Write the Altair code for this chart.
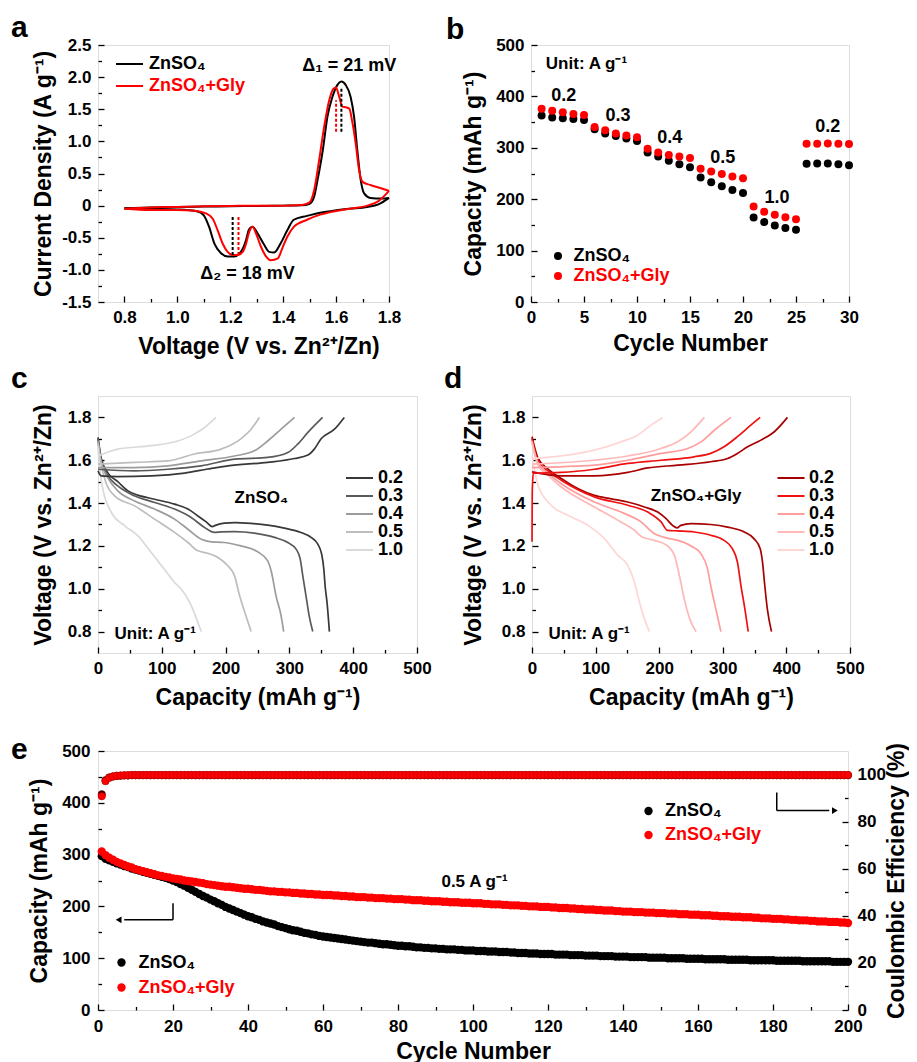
import altair as alt
import pandas as pd

FONT = "Liberation Sans"
S1 = "ZnSO₄"
S2 = "ZnSO₄+Gly"
SERIES = [S1, S2]
SER_COLORS = ["#000000", "#ff0000"]
RATES = ["0.2", "0.3", "0.4", "0.5", "1.0"]
GRAYS = ["#383838", "#5a5a5a", "#9c9c9c", "#bdbdbd", "#dadada"]
REDS = ["#a80000", "#ee1111", "#ff9c9c", "#ffb8b8", "#ffd6d6"]

# ---------------- panel a : CV curves ----------------
a_zn_up_v = [0.80, 0.90, 1.00, 1.10, 1.20, 1.30, 1.40, 1.47, 1.50, 1.517, 1.53, 1.55, 1.567, 1.586,
             1.605, 1.62, 1.636, 1.655, 1.668, 1.68, 1.693, 1.706, 1.73, 1.77, 1.80]
a_zn_up_i = [-0.04, -0.03, -0.02, -0.015, -0.01, -0.005, 0.0, 0.005, 0.03, 0.14, 0.40, 0.87, 1.38, 1.69,
             1.88, 1.93, 1.88, 1.69, 1.38, 0.87, 0.40, 0.19, 0.12, 0.11, 0.12]
a_zn_dn_v = [1.80, 1.76, 1.718, 1.65, 1.59, 1.54, 1.49, 1.44, 1.416, 1.39, 1.366, 1.347, 1.328, 1.303,
             1.284, 1.27, 1.26, 1.24, 1.215, 1.19, 1.165, 1.14, 1.12, 1.10, 1.077, 1.04, 1.00, 0.90, 0.80]
a_zn_dn_i = [0.12, 0.02, -0.02, -0.05, -0.08, -0.11, -0.16, -0.22, -0.38, -0.59, -0.73, -0.72, -0.61, -0.43,
             -0.33, -0.38, -0.53, -0.72, -0.79, -0.79, -0.74, -0.59, -0.33, -0.15, -0.09, -0.07, -0.06, -0.05, -0.04]
a_gly_up_v = [0.80, 0.90, 1.00, 1.10, 1.20, 1.30, 1.40, 1.47, 1.50, 1.517, 1.536, 1.555, 1.574, 1.59, 1.60,
              1.61, 1.624, 1.636, 1.65, 1.66, 1.674, 1.687, 1.70, 1.73, 1.77, 1.80]
a_gly_up_i = [-0.05, -0.03, -0.02, -0.01, -0.005, 0.0, 0.0, 0.01, 0.05, 0.24, 0.71, 1.23, 1.64, 1.82, 1.84,
              1.72, 1.54, 1.53, 1.51, 1.33, 0.97, 0.55, 0.37, 0.32, 0.27, 0.23]
a_gly_dn_v = [1.80, 1.76, 1.718, 1.65, 1.59, 1.54, 1.49, 1.44, 1.416, 1.397, 1.38, 1.353, 1.335, 1.316, 1.297,
              1.284, 1.27, 1.26, 1.247, 1.228, 1.21, 1.19, 1.171, 1.152, 1.133, 1.108, 1.064, 1.00, 0.90, 0.80]
a_gly_dn_i = [0.23, 0.07, 0.0, -0.05, -0.09, -0.14, -0.22, -0.33, -0.48, -0.66, -0.82, -0.85, -0.79, -0.64, -0.43,
              -0.33, -0.43, -0.59, -0.72, -0.77, -0.77, -0.72, -0.59, -0.38, -0.20, -0.12, -0.08, -0.07, -0.07, -0.05]
a_dash_v = [1.62, 1.60, 1.209, 1.231]
a_dash_y1 = [1.15, 1.15, -0.77, -0.77]
a_dash_y2 = [1.82, 1.64, -0.16, -0.16]
a_dash_s = [S1, S2, S1, S2]
a_note_t = ["Δ₁ = 21 mV", "Δ₂ = 18 mV"]
a_note_x = [1.65, 1.265]
a_note_y = [2.18, -1.06]

# ---------------- panel b : rate capability ----------------
b_cycle = list(range(1, 31))
b_zn = [362.7, 359, 357.5, 356, 354, 336, 328, 323, 318, 313, 291, 283, 275, 268, 262,
        242, 233, 225, 218, 212, 164.5, 155.4, 149, 144, 140.5, 269, 269.4, 269.4, 268, 266]
b_gly = [376, 372, 369, 366, 364, 340.7, 334, 328, 324, 320.6, 298, 291, 286, 283, 280,
         259, 254, 249, 244, 241, 186, 175.5, 169.7, 165, 161, 308, 308, 308.5, 308, 307.5]
b_lab_t = ["0.2", "0.3", "0.4", "0.5", "1.0", "0.2"]
b_lab_x = [3.1, 8.2, 13.1, 18.1, 23.2, 28.0]
b_lab_y = [400, 361, 319, 281, 202, 341]

# ---------------- panel c : ZnSO4 GCD ----------------
c02_dis_cap = [0, 5, 15.7, 31, 47, 62.6, 88.7, 120, 141, 156.6, 169.6, 179, 185, 198, 214, 240, 266, 292, 318, 334, 344.5, 350.7, 354, 356, 359, 362.7]
c02_dis_v = [1.707, 1.61, 1.54, 1.50, 1.457, 1.437, 1.418, 1.395, 1.372, 1.34, 1.312, 1.29, 1.297, 1.306, 1.309, 1.305, 1.297, 1.283, 1.263, 1.24, 1.208, 1.16, 1.09, 1.013, 0.935, 0.80]
c03_dis_cap = [0, 5, 15, 31, 57, 88.7, 120, 146, 167, 182.7, 193, 214, 245, 276.6, 297.5, 310.5, 317, 321, 326, 331, 336.6]
c03_dis_v = [1.70, 1.60, 1.53, 1.48, 1.434, 1.403, 1.372, 1.333, 1.286, 1.263, 1.266, 1.267, 1.26, 1.24, 1.216, 1.185, 1.138, 1.06, 0.967, 0.873, 0.80]
c04_dis_cap = [0, 5, 15, 31, 57.4, 88.7, 120, 141, 162, 177.5, 198, 224, 250.5, 266, 272, 279, 287, 291]
c04_dis_v = [1.69, 1.59, 1.52, 1.457, 1.41, 1.372, 1.325, 1.278, 1.231, 1.219, 1.216, 1.20, 1.172, 1.13, 1.076, 0.967, 0.873, 0.80]
c05_dis_cap = [0, 5, 12, 26, 57.4, 88.7, 120, 141, 156.6, 172, 188, 203.5, 214, 222, 232, 240]
c05_dis_v = [1.68, 1.58, 1.50, 1.434, 1.387, 1.325, 1.263, 1.216, 1.177, 1.166, 1.146, 1.107, 1.06, 0.967, 0.873, 0.80]
c10_dis_cap = [0, 5, 21, 42, 62.6, 83.5, 104, 120, 130.5, 141, 148.7, 156.6, 161.8]
c10_dis_v = [1.66, 1.51, 1.356, 1.294, 1.247, 1.169, 1.091, 1.029, 0.998, 0.951, 0.904, 0.842, 0.80]
c02_chg_cap = [0, 5, 31, 83.5, 135.7, 172, 203.5, 266, 308, 329, 339, 349.7, 370.6, 386]
c02_chg_v = [1.55, 1.527, 1.524, 1.527, 1.54, 1.559, 1.574, 1.59, 1.608, 1.624, 1.652, 1.70, 1.745, 1.80]
c03_chg_cap = [0, 57, 109.6, 161.8, 214, 266, 297.5, 313, 329, 352]
c03_chg_v = [1.558, 1.55, 1.558, 1.574, 1.605, 1.613, 1.636, 1.675, 1.73, 1.80]
c04_chg_cap = [0, 57, 109.6, 161.8, 214, 245, 266, 287, 308]
c04_chg_v = [1.566, 1.566, 1.574, 1.597, 1.62, 1.644, 1.69, 1.745, 1.80]
c05_chg_cap = [0, 57, 109.6, 151, 193, 224, 240, 253]
c05_chg_v = [1.582, 1.59, 1.597, 1.629, 1.652, 1.70, 1.745, 1.80]
c10_chg_cap = [0, 31, 83.5, 125, 151, 167, 185]
c10_chg_v = [1.62, 1.652, 1.668, 1.69, 1.722, 1.753, 1.80]

# ---------------- panel d : ZnSO4+Gly GCD ----------------
d02_dis_cap = [0, 9.4, 25, 46, 72, 98, 124.5, 150.6, 176.8, 197.7, 210.8, 221, 228, 234, 250, 281, 307.5, 333.7, 349, 358.8, 362.4, 366, 370, 376.6]
d02_dis_v = [1.71, 1.61, 1.56, 1.515, 1.468, 1.436, 1.42, 1.405, 1.382, 1.358, 1.327, 1.296, 1.284, 1.296, 1.304, 1.30, 1.288, 1.265, 1.234, 1.187, 1.125, 1.015, 0.906, 0.80]
d03_dis_cap = [0, 9, 25, 46, 98, 150.6, 182, 203, 213, 229, 255, 281, 302, 315, 323, 328.5, 334.7, 340]
d03_dis_v = [1.70, 1.60, 1.55, 1.507, 1.429, 1.39, 1.358, 1.312, 1.273, 1.27, 1.265, 1.25, 1.226, 1.187, 1.125, 1.015, 0.906, 0.80]
d04_dis_cap = [0, 9, 25, 46, 98, 140, 171.5, 192.5, 208, 229, 250, 265.7, 276, 281, 289, 297]
d04_dis_v = [1.69, 1.59, 1.54, 1.49, 1.405, 1.358, 1.312, 1.257, 1.24, 1.226, 1.20, 1.163, 1.093, 1.015, 0.906, 0.80]
d05_dis_cap = [0, 9, 25, 46, 98, 140, 161, 174, 192.5, 213, 224, 231.7, 240.6, 250, 258]
d05_dis_v = [1.68, 1.58, 1.53, 1.475, 1.382, 1.312, 1.273, 1.24, 1.226, 1.20, 1.156, 1.062, 0.937, 0.844, 0.80]
d10_dis_cap = [0, 9.4, 30, 56.5, 88, 114, 135, 150.6, 161, 169, 176.8, 184.6]
d10_dis_v = [1.62, 1.483, 1.39, 1.343, 1.296, 1.234, 1.156, 1.109, 1.031, 0.937, 0.859, 0.80]
d02_chg_cap = [0, 46, 98, 150.6, 182, 229, 281, 307.5, 323, 339, 360, 381, 401.7]
d02_chg_v = [1.546, 1.527, 1.527, 1.543, 1.564, 1.577, 1.593, 1.608, 1.632, 1.663, 1.694, 1.733, 1.80]
d03_chg_cap = [0, 0.4, 2, 46, 98, 150.6, 203, 255, 281, 302, 323, 344, 358.8]
d03_chg_v = [1.22, 1.45, 1.54, 1.543, 1.558, 1.585, 1.60, 1.616, 1.632, 1.663, 1.71, 1.764, 1.80]
d04_chg_cap = [0, 98, 150.6, 203, 244.8, 265.7, 286.6, 312.8]
d04_chg_v = [1.566, 1.577, 1.60, 1.632, 1.655, 1.686, 1.74, 1.80]
d05_chg_cap = [0, 98, 150.6, 203, 229, 250, 271]
d05_chg_v = [1.582, 1.60, 1.62, 1.655, 1.686, 1.733, 1.80]
d10_chg_cap = [0, 46, 98, 140, 166, 187, 205.5]
d10_chg_v = [1.608, 1.62, 1.647, 1.686, 1.717, 1.764, 1.80]

# ---------------- panel e : long cycling ----------------
e_cycle = list(range(1, 201))
e_cap_zn = [297, 292, 289, 286, 283, 281, 278, 276, 273, 271,
            269, 267, 265, 263, 261, 259, 257, 255, 253, 250,
            247, 243, 240, 236, 232, 228, 224, 220, 217, 213,
            210, 206, 203, 199, 196, 193, 190, 187, 184, 181,
            179, 176, 174, 171, 169, 167, 165, 162, 160, 158,
            156, 154, 153, 151, 149, 148, 146, 145, 143, 142,
            141, 140, 139, 138, 137, 136, 135, 134, 133, 132,
            131, 130, 130, 129, 128, 127, 127, 126, 125, 124,
            124, 123, 123, 122, 121, 121, 120, 120, 119, 119,
            118, 118, 117, 117, 117, 116, 116, 115, 115, 115,
            114, 114, 114, 113, 113, 113, 112, 112, 112, 111,
            111, 110, 110, 110, 109, 109, 109, 108, 108, 108,
            108, 107, 107, 107, 107, 106, 106, 106, 106, 105,
            105, 105, 105, 104, 104, 104, 104, 103, 103, 103,
            103, 102, 102, 102, 102, 102, 101, 101, 101, 101,
            101, 100, 100, 100, 100, 100, 99, 99, 99, 99,
            99, 98, 98, 98, 98, 98, 98, 97, 97, 97,
            97, 97, 97, 96, 96, 96, 96, 96, 96, 96,
            95, 95, 95, 95, 95, 95, 95, 94, 94, 94,
            94, 94, 94, 94, 94, 93, 93, 93, 93, 93]
e_cap_gly = [306, 299, 294, 290, 286, 283, 280, 277, 275, 272,
             270, 268, 266, 264, 262, 260, 259, 257, 256, 254,
             253, 252, 250, 249, 248, 247, 246, 245, 243, 242,
             241, 240, 239, 238, 238, 237, 236, 235, 234, 234,
             233, 232, 232, 231, 230, 229, 229, 228, 228, 227,
             227, 226, 226, 225, 225, 224, 224, 223, 223, 222,
             222, 222, 221, 221, 220, 220, 219, 219, 218, 218,
             218, 217, 217, 216, 216, 216, 215, 215, 214, 214,
             214, 213, 213, 212, 212, 212, 211, 211, 210, 210,
             210, 209, 209, 208, 208, 208, 207, 207, 207, 206,
             206, 206, 205, 205, 204, 204, 204, 203, 203, 202,
             202, 202, 201, 201, 200, 200, 200, 199, 199, 199,
             198, 198, 197, 197, 197, 196, 196, 195, 195, 194,
             194, 194, 193, 193, 192, 192, 192, 191, 191, 190,
             190, 190, 189, 189, 189, 188, 188, 188, 187, 187,
             187, 186, 186, 186, 185, 185, 185, 184, 184, 184,
             183, 183, 183, 182, 182, 181, 181, 181, 180, 180,
             180, 179, 179, 179, 178, 178, 177, 177, 177, 176,
             176, 176, 175, 175, 174, 174, 173, 173, 173, 172,
             172, 171, 171, 171, 170, 170, 170, 169, 169, 168]
e_ce_zn = [91.6, 97.6, 98.8, 99.2, 99.4, 99.5, 99.6, 99.6, 99.7, 99.7,
           99.7, 99.7, 99.7, 99.7, 99.7, 99.7, 99.7, 99.7, 99.7, 99.7,
           99.7, 99.7, 99.7, 99.7, 99.7, 99.7, 99.7, 99.7, 99.7, 99.7,
           99.7, 99.7, 99.7, 99.7, 99.7, 99.7, 99.7, 99.7, 99.7, 99.7,
           99.7, 99.7, 99.7, 99.7, 99.7, 99.7, 99.7, 99.7, 99.7, 99.7,
           99.7, 99.7, 99.7, 99.7, 99.7, 99.7, 99.7, 99.7, 99.7, 99.7,
           99.7, 99.7, 99.7, 99.7, 99.7, 99.7, 99.7, 99.7, 99.7, 99.7,
           99.7, 99.7, 99.7, 99.7, 99.7, 99.7, 99.7, 99.7, 99.7, 99.7,
           99.7, 99.7, 99.7, 99.7, 99.7, 99.7, 99.7, 99.7, 99.7, 99.7,
           99.7, 99.7, 99.7, 99.7, 99.7, 99.7, 99.7, 99.7, 99.7, 99.7,
           99.7, 99.7, 99.7, 99.7, 99.7, 99.7, 99.7, 99.7, 99.7, 99.7,
           99.7, 99.7, 99.7, 99.7, 99.7, 99.7, 99.7, 99.7, 99.7, 99.7,
           99.7, 99.7, 99.7, 99.7, 99.7, 99.7, 99.7, 99.7, 99.7, 99.7,
           99.7, 99.7, 99.7, 99.7, 99.7, 99.7, 99.7, 99.7, 99.7, 99.7,
           99.7, 99.7, 99.7, 99.7, 99.7, 99.7, 99.7, 99.7, 99.7, 99.7,
           99.7, 99.7, 99.7, 99.7, 99.7, 99.7, 99.7, 99.7, 99.7, 99.7,
           99.7, 99.7, 99.7, 99.7, 99.7, 99.7, 99.7, 99.7, 99.7, 99.7,
           99.7, 99.7, 99.7, 99.7, 99.7, 99.7, 99.7, 99.7, 99.7, 99.7,
           99.7, 99.7, 99.7, 99.7, 99.7, 99.7, 99.7, 99.7, 99.7, 99.7,
           99.7, 99.7, 99.7, 99.7, 99.7, 99.7, 99.7, 99.7, 99.7, 99.7]
e_ce_gly = [90.8, 97.2, 98.6, 99.2, 99.5, 99.6, 99.7, 99.7, 99.8, 99.8,
            99.8, 99.8, 99.8, 99.8, 99.8, 99.8, 99.8, 99.8, 99.8, 99.8,
            99.8, 99.8, 99.8, 99.8, 99.8, 99.8, 99.8, 99.8, 99.8, 99.8,
            99.8, 99.8, 99.8, 99.8, 99.8, 99.8, 99.8, 99.8, 99.8, 99.8,
            99.8, 99.8, 99.8, 99.8, 99.8, 99.8, 99.8, 99.8, 99.8, 99.8,
            99.8, 99.8, 99.8, 99.8, 99.8, 99.8, 99.8, 99.8, 99.8, 99.8,
            99.8, 99.8, 99.8, 99.8, 99.8, 99.8, 99.8, 99.8, 99.8, 99.8,
            99.8, 99.8, 99.8, 99.8, 99.8, 99.8, 99.8, 99.8, 99.8, 99.8,
            99.8, 99.8, 99.8, 99.8, 99.8, 99.8, 99.8, 99.8, 99.8, 99.8,
            99.8, 99.8, 99.8, 99.8, 99.8, 99.8, 99.8, 99.8, 99.8, 99.8,
            99.8, 99.8, 99.8, 99.8, 99.8, 99.8, 99.8, 99.8, 99.8, 99.8,
            99.8, 99.8, 99.8, 99.8, 99.8, 99.8, 99.8, 99.8, 99.8, 99.8,
            99.8, 99.8, 99.8, 99.8, 99.8, 99.8, 99.8, 99.8, 99.8, 99.8,
            99.8, 99.8, 99.8, 99.8, 99.8, 99.8, 99.8, 99.8, 99.8, 99.8,
            99.8, 99.8, 99.8, 99.8, 99.8, 99.8, 99.8, 99.8, 99.8, 99.8,
            99.8, 99.8, 99.8, 99.8, 99.8, 99.8, 99.8, 99.8, 99.8, 99.8,
            99.8, 99.8, 99.8, 99.8, 99.8, 99.8, 99.8, 99.8, 99.8, 99.8,
            99.8, 99.8, 99.8, 99.8, 99.8, 99.8, 99.8, 99.8, 99.8, 99.8,
            99.8, 99.8, 99.8, 99.8, 99.8, 99.8, 99.8, 99.8, 99.8, 99.8,
            99.8, 99.8, 99.8, 99.8, 99.8, 99.8, 99.8, 99.8, 99.8, 99.8]
e_arrow_x = [20, 20, 181, 181]
e_arrow_x2 = [20, 7, 181, 195]
e_arrow_y = [206, 174, 420, 385]
e_arrow_y2 = [174, 174, 385, 385]
e_head_x = [5.5, 196.5]
e_head_y = [174, 385]
e_head_shape = ["triangle-left", "triangle-right"]

# ---------------- helpers ----------------
TICK = 6
MINOR = 3.5
LBL = dict(labelFont=FONT, labelFontSize=17, labelFontWeight="bold", labelColor="black")
TTL = dict(titleFont=FONT, titleFontSize=23, titleFontWeight="bold", titleColor="black",
           titleBaseline="middle")
ONE_DEC = "format(datum.value, '.1f')"
INT = "format(datum.value, 'd')"
LABEL_RED = {"expr": f"datum.value == '{S2}' ? '#ff0000' : '#000000'"}


def major(orient, values, title, expr, tpos, lp=7, extra=None):
    kw = dict(orient=orient, values=values, title=title, labelExpr=expr, offset=-TICK,
              tickSize=TICK, tickWidth=1.3, tickColor="black", domain=False, grid=False,
              labelPadding=lp, labelFlush=False, labelOverlap=False, **LBL, **TTL)
    if orient in ("left", "right"):
        kw["titleX"] = tpos
        kw["titleAngle"] = 270
    else:
        kw["titleY"] = tpos
    if extra:
        kw.update(extra)
    return alt.Axis(**kw)


def minor(orient, values):
    return alt.Axis(orient=orient, values=values, title=None, labels=False, offset=-MINOR,
                    tickSize=MINOR, tickWidth=1.3, tickColor="black", domain=False, grid=False)


def letter(t, dx, dy):
    return alt.Chart(pd.DataFrame({"t": [t]})).mark_text(
        font=FONT, fontSize=30, fontWeight="bold", align="left", baseline="alphabetic",
        color="black").encode(x=alt.value(dx), y=alt.value(dy), text="t:N")


def note(df, color="black", size=17, align="center"):
    return alt.Chart(df).mark_text(font=FONT, fontSize=size, fontWeight="bold",
                                   color=color, align=align, baseline="middle")


def legend(x, y, kind, size, off, row_h, color=LABEL_RED):
    kw = dict(title=None, orient="none", legendX=x, legendY=y, padding=0, symbolType=kind,
              symbolSize=size, labelFont=FONT, labelFontSize=18, labelFontWeight="bold",
              labelColor=color, labelOffset=off, rowPadding=0, clipHeight=row_h)
    kw["symbolStrokeWidth"] = 2 if kind == "stroke" else 0
    return alt.Legend(**kw)


# ---------------- panel a ----------------
rows = []
for ser, br, vs, cs in [(S1, "up", a_zn_up_v, a_zn_up_i), (S1, "dn", a_zn_dn_v, a_zn_dn_i),
                        (S2, "up", a_gly_up_v, a_gly_up_i), (S2, "dn", a_gly_dn_v, a_gly_dn_i)]:
    for v, c in zip(vs, cs):
        rows.append({"v": v, "i": c, "series": ser, "branch": ser + br})
df_a = pd.DataFrame(rows)
xa = alt.Scale(domain=[0.7, 1.8], nice=False, zero=False)
ya = alt.Scale(domain=[-1.5, 2.5], nice=False, zero=False)
col_ser = alt.Scale(domain=SERIES, range=SER_COLORS)
a_yexpr = "datum.value == 0 ? '0' : (datum.value < 0 ? '-' : '') + format(abs(datum.value), '.1f')"

a_lines = alt.Chart(df_a).mark_line(strokeWidth=2, interpolate="monotone").encode(
    x=alt.X("v:Q", scale=xa, axis=major("bottom", [0.8, 1.0, 1.2, 1.4, 1.6, 1.8],
                                        "Voltage (V vs. Zn²⁺/Zn)", ONE_DEC, 50.7,
                                        extra={"titleX": 160.5})),
    y=alt.Y("i:Q", scale=ya, axis=major("left", [-1.5, -1.0, -0.5, 0, 0.5, 1.0, 1.5, 2.0, 2.5],
                                        "Current Density (A g⁻¹)", a_yexpr, -61)),
    color=alt.Color("series:N", scale=col_ser, legend=legend(17, 8, "stroke", 729, 5, 22)),
    detail="branch:N",
)
a_minor = alt.Chart(df_a).mark_point(opacity=0).encode(
    x=alt.X("v:Q", scale=xa, axis=minor("bottom", [0.9, 1.1, 1.3, 1.5, 1.7])),
    y=alt.Y("i:Q", scale=ya, axis=minor("left", [-1.25, -0.75, -0.25, 0.25, 0.75, 1.25, 1.75, 2.25])),
)
df_a_dash = pd.DataFrame({"v": a_dash_v, "y1": a_dash_y1, "y2": a_dash_y2, "series": a_dash_s})
a_dash = alt.Chart(df_a_dash).mark_rule(strokeWidth=2, strokeDash=[3, 2]).encode(
    x=alt.X("v:Q", scale=xa, axis=None), y=alt.Y("y1:Q", scale=ya, axis=None), y2="y2:Q",
    color=alt.Color("series:N", scale=col_ser, legend=None))
a_notes = note(pd.DataFrame({"t": a_note_t, "x": a_note_x, "y": a_note_y}), size=18).encode(
    x=alt.X("x:Q", scale=xa, axis=None), y=alt.Y("y:Q", scale=ya, axis=None), text="t:N")
panel_a = alt.layer(a_lines, a_minor, a_dash, a_notes, letter("a", -87, -8)).properties(
    width=291, height=257).resolve_axis(x="independent", y="independent")

# ---------------- panel b ----------------
df_b = pd.DataFrame({"cycle": b_cycle * 2, "cap": b_zn + b_gly,
                     "series": [S1] * len(b_zn) + [S2] * len(b_gly),
                     "ord": [0] * len(b_zn) + [1] * len(b_gly)})
xb = alt.Scale(domain=[0, 30], nice=False, zero=False)
yb = alt.Scale(domain=[0, 500], nice=False, zero=False)
b_pts = alt.Chart(df_b).mark_circle(size=64, opacity=1).encode(
    x=alt.X("cycle:Q", scale=xb, axis=major("bottom", [0, 5, 10, 15, 20, 25, 30],
                                            "Cycle Number", INT, 47.3)),
    y=alt.Y("cap:Q", scale=yb, axis=major("left", [0, 100, 200, 300, 400, 500],
                                          "Capacity (mAh g⁻¹)", INT, -64)),
    color=alt.Color("series:N", scale=col_ser, legend=legend(18, 201, "circle", 64, 6.5, 20)),
    order=alt.Order("ord:Q"),
)
b_minor = alt.Chart(df_b).mark_point(opacity=0).encode(
    x=alt.X("cycle:Q", scale=xb, axis=minor("bottom", [2.5, 7.5, 12.5, 17.5, 22.5, 27.5])),
    y=alt.Y("cap:Q", scale=yb, axis=minor("left", [50, 150, 250, 350, 450])),
)
b_labs = note(pd.DataFrame({"t": b_lab_t, "x": b_lab_x, "y": b_lab_y}), size=18).encode(
    x=alt.X("x:Q", scale=xb, axis=None), y=alt.Y("y:Q", scale=yb, axis=None), text="t:N")
b_unit = note(pd.DataFrame({"t": ["Unit: A g⁻¹"], "x": [1.4], "y": [464]}), align="left").encode(
    x=alt.X("x:Q", scale=xb, axis=None), y=alt.Y("y:Q", scale=yb, axis=None), text="t:N")
panel_b = alt.layer(b_pts, b_minor, b_labs, b_unit, letter("b", -85, -6)).properties(
    width=318, height=257).resolve_axis(x="independent", y="independent")


# ---------------- panels c and d ----------------
def gcd_panel(curves, colors, name_text, name_x, name_y, ltr, ldx, width, leg_x, lab_off, ytitle_x):
    rows = []
    for rate, br, caps, vs in curves:
        for c, v in zip(caps, vs):
            rows.append({"cap": c, "v": v, "rate": rate, "key": rate + br})
    df = pd.DataFrame(rows)
    xs = alt.Scale(domain=[0, 500], nice=False, zero=False)
    ys = alt.Scale(domain=[0.7, 1.9], nice=False, zero=False)
    lines = alt.Chart(df).mark_line(strokeWidth=1.7, interpolate="monotone").encode(
        x=alt.X("cap:Q", scale=xs, axis=major("bottom", [0, 100, 200, 300, 400, 500],
                                              "Capacity (mAh g⁻¹)", INT, 50.3)),
        y=alt.Y("v:Q", scale=ys, axis=major("left", [0.8, 1.0, 1.2, 1.4, 1.6, 1.8],
                                            "Voltage (V vs. Zn²⁺/Zn)", ONE_DEC, ytitle_x)),
        color=alt.Color("rate:N", scale=alt.Scale(domain=RATES, range=colors),
                        legend=legend(leg_x, 73, "stroke", 729, lab_off, 18, color="black")),
        detail="key:N",
    )
    mnr = alt.Chart(df).mark_point(opacity=0).encode(
        x=alt.X("cap:Q", scale=xs, axis=minor("bottom", [50, 150, 250, 350, 450])),
        y=alt.Y("v:Q", scale=ys, axis=minor("left", [0.9, 1.1, 1.3, 1.5, 1.7])),
    )
    name = note(pd.DataFrame({"t": [name_text], "x": [name_x], "y": [name_y]})).encode(
        x=alt.X("x:Q", scale=xs, axis=None), y=alt.Y("y:Q", scale=ys, axis=None), text="t:N")
    unit = note(pd.DataFrame({"t": ["Unit: A g⁻¹"], "x": [26], "y": [0.79]}), align="left").encode(
        x=alt.X("x:Q", scale=xs, axis=None), y=alt.Y("y:Q", scale=ys, axis=None), text="t:N")
    return alt.layer(lines, mnr, name, unit, letter(ltr, ldx, -8)).properties(
        width=width, height=257).resolve_axis(x="independent", y="independent")


panel_c = gcd_panel([
    ("0.2", "d", c02_dis_cap, c02_dis_v), ("0.3", "d", c03_dis_cap, c03_dis_v),
    ("0.4", "d", c04_dis_cap, c04_dis_v), ("0.5", "d", c05_dis_cap, c05_dis_v),
    ("1.0", "d", c10_dis_cap, c10_dis_v),
    ("0.2", "c", c02_chg_cap, c02_chg_v), ("0.3", "c", c03_chg_cap, c03_chg_v),
    ("0.4", "c", c04_chg_cap, c04_chg_v), ("0.5", "c", c05_chg_cap, c05_chg_v),
    ("1.0", "c", c10_chg_cap, c10_chg_v)],
    GRAYS, S1, 256, 1.423, "c", -87, 319, 247, 4, -61)

panel_d = gcd_panel([
    ("0.2", "d", d02_dis_cap, d02_dis_v), ("0.3", "d", d03_dis_cap, d03_dis_v),
    ("0.4", "d", d04_dis_cap, d04_dis_v), ("0.5", "d", d05_dis_cap, d05_dis_v),
    ("1.0", "d", d10_dis_cap, d10_dis_v),
    ("0.2", "c", d02_chg_cap, d02_chg_v), ("0.3", "c", d03_chg_cap, d03_chg_v),
    ("0.4", "c", d04_chg_cap, d04_chg_v), ("0.5", "c", d05_chg_cap, d05_chg_v),
    ("1.0", "c", d10_chg_cap, d10_chg_v)],
    REDS, S2, 258, 1.433, "d", -88, 318, 244.5, 3.5, -65)

# ---------------- panel e ----------------
df_e_cap = pd.DataFrame({"cycle": e_cycle * 2, "cap": e_cap_zn + e_cap_gly,
                         "series": [S1] * 200 + [S2] * 200, "ord": [0] * 200 + [1] * 200})
df_e_ce = pd.DataFrame({"cycle": e_cycle * 2, "ce": e_ce_zn + e_ce_gly,
                        "series": [S1] * 200 + [S2] * 200, "ord": [0] * 200 + [1] * 200})
xe = alt.Scale(domain=[0, 200], nice=False, zero=False)
ye1 = alt.Scale(domain=[0, 500], nice=False, zero=False)
ye2 = alt.Scale(domain=[0, 110], nice=False, zero=False)

e_cap = alt.Chart(df_e_cap).mark_circle(size=70, opacity=1).encode(
    x=alt.X("cycle:Q", scale=xe, axis=major("bottom", list(range(0, 201, 20)), "Cycle Number", INT, 47, lp=8)),
    y=alt.Y("cap:Q", scale=ye1, axis=major("left", [0, 100, 200, 300, 400, 500],
                                           "Capacity (mAh g⁻¹)", INT, -65, lp=8)),
    color=alt.Color("series:N", scale=col_ser, legend=legend(14.5, 199, "circle", 70, 8, 25)),
    order=alt.Order("ord:Q"),
)
e_ce = alt.Chart(df_e_ce).mark_circle(size=55, opacity=1, stroke="#b00000", strokeWidth=0.6).encode(
    x=alt.X("cycle:Q", scale=xe, axis=None),
    y=alt.Y("ce:Q", scale=ye2, axis=major("right", [0, 20, 40, 60, 80, 100],
                                          "Coulombic Efficiency (%)", INT, 54, lp=9)),
    color=alt.Color("series:N", scale=col_ser, legend=legend(541.5, 48, "circle", 70, 7.5, 24)),
    order=alt.Order("ord:Q"),
)
e_minor1 = alt.Chart(df_e_cap).mark_point(opacity=0).encode(
    x=alt.X("cycle:Q", scale=xe, axis=minor("bottom", list(range(10, 200, 20)))),
    y=alt.Y("cap:Q", scale=ye1, axis=minor("left", [50, 150, 250, 350, 450])),
)
e_minor2 = alt.Chart(df_e_ce).mark_point(opacity=0).encode(
    x=alt.X("cycle:Q", scale=xe, axis=None),
    y=alt.Y("ce:Q", scale=ye2, axis=minor("right", [10, 30, 50, 70, 90])),
)
df_arrow = pd.DataFrame({"x": e_arrow_x, "x2": e_arrow_x2, "y": e_arrow_y, "y2": e_arrow_y2})
e_arrows = alt.Chart(df_arrow).mark_rule(strokeWidth=1.5, color="black").encode(
    x=alt.X("x:Q", scale=xe, axis=None), x2="x2:Q",
    y=alt.Y("y:Q", scale=ye1, axis=None), y2="y2:Q")
df_head = pd.DataFrame({"x": e_head_x, "y": e_head_y, "shape": e_head_shape})
e_heads = alt.Chart(df_head).mark_point(filled=True, size=45, color="black", opacity=1).encode(
    x=alt.X("x:Q", scale=xe, axis=None), y=alt.Y("y:Q", scale=ye1, axis=None),
    shape=alt.Shape("shape:N", scale=None, legend=None))
e_text = note(pd.DataFrame({"t": ["0.5 A g⁻¹"], "x": [100.4], "y": [247]})).encode(
    x=alt.X("x:Q", scale=xe, axis=None), y=alt.Y("y:Q", scale=ye1, axis=None), text="t:N")
panel_e = alt.layer(e_cap, e_ce, e_minor1, e_minor2, e_arrows, e_heads, e_text,
                    letter("e", -87, 8)).properties(width=750, height=259).resolve_scale(
    y="independent", color="independent").resolve_axis(x="independent", y="independent")

# ---------------- layout ----------------
row1 = alt.hconcat(panel_a, panel_b, spacing=142, bounds="flush").resolve_scale(color="independent")
row2 = alt.hconcat(panel_c, panel_d, spacing=115, bounds="flush").resolve_scale(color="independent")
top = alt.vconcat(row1, row2, spacing=3).resolve_scale(color="independent")
chart = alt.vconcat(top, panel_e, spacing=24).resolve_scale(color="independent").properties(
    padding={"left": 2, "top": 4, "right": 0, "bottom": 0}
).configure_view(stroke="black", strokeWidth=1.5).configure(background="white")

chart.save("out.html", embed_options={"renderer": "svg", "actions": False})
